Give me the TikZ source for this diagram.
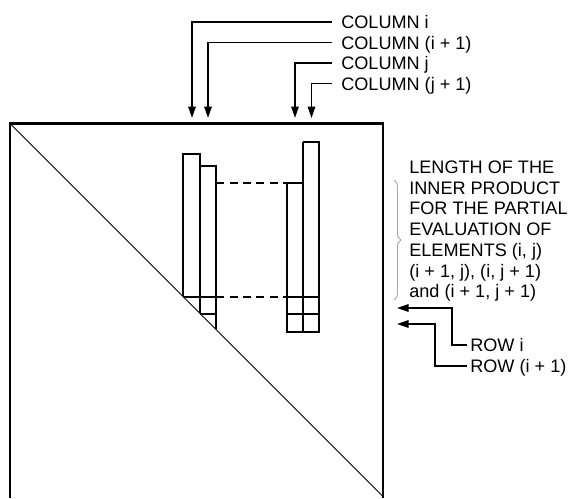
\documentclass[tikz,border=0pt]{standalone}
\usepackage{fontspec}
\setmainfont{Liberation Sans}
\usetikzlibrary{arrows.meta, calc, decorations.pathreplacing}

\begin{document}
\begin{tikzpicture}[
    x=0.02cm, y=-0.02cm,
    frame/.style={line width=1.5pt, line join=miter},
    cell/.style={line width=0.75pt},
    gapline/.style={line width=0.8pt, dash pattern=on 1.6mm off 1.1mm},
    lbl/.style={font=\fontsize{10.3}{11.8}\selectfont, text height=7.4pt, text depth=0pt, inner ysep=0pt},
    collbl/.style={lbl, anchor=west, inner xsep=5.1pt},
    rowlbl/.style={lbl, anchor=west, inner xsep=1.7pt},
    arrow/.style={-{Triangle[length=2.3mm, width=1.5mm]}, line width=0.8pt}
]
\useasboundingbox (0,0) rectangle (573,498);

% Matrix outline and diagonal
\draw[frame] (10,498) -- (10,123.5) -- (383,123.5) -- (383,498);
\draw[line width=0.5pt] (10,123.5) -- (383,496.5);

% Columns i and i+1
\draw[cell] (183,296) -- (183,154) -- (200,154) -- (200,313);
\draw[cell] (200,166) -- (216,166) -- (216,329);
\draw[cell] (183,297) -- (216,297);
\draw[cell] (200,314) -- (216,314);

% Columns j and j+1
\draw[cell] (287,183) -- (303,183);
\draw[cell] (303,142) -- (319,142) -- (319,332) -- (287,332) -- (287,183);
\draw[cell] (303,142) -- (303,332);
\draw[cell] (287,297) -- (319,297);
\draw[cell] (287,314) -- (319,314);

% Length of the inner product
\draw[gapline] (216,183) -- (287,183);
\draw[gapline] (216,297) -- (287,297);

% Column labels
\node[collbl] (colI)  at (332,22)   {COLUMN i};
\node[collbl] (colIp) at (332,42.5) {COLUMN (i + 1)};
\node[collbl] (colJ)  at (332,63)   {COLUMN j};
\node[collbl] (colJp) at (332,83.5) {COLUMN (j + 1)};

\coordinate (tipI)  at (192,118);
\coordinate (tipIp) at (208,118);
\coordinate (tipJ)  at (295,118);
\coordinate (tipJp) at (311.5,118);

\draw[arrow] (colI.west)  -| (tipI);
\draw[arrow] (colIp.west) -| (tipIp);
\draw[arrow] (colJ.west)  -| (tipJ);
\draw[arrow] (colJp.west) -| (tipJp);

% Note with brace
\node[font=\fontsize{10.3}{11.8}\selectfont, align=left, anchor=north west, inner sep=0pt] (note) at (409,160.5)
    {LENGTH OF THE\\INNER PRODUCT\\FOR THE PARTIAL\\EVALUATION OF\\ELEMENTS (i, j)\\(i + 1, j), (i, j + 1)\\and (i + 1, j + 1)};
\coordinate (braceTop) at (394,180);
\coordinate (braceBot) at (394,300);
\draw[gray!70, line width=0.5pt, decorate, decoration={brace, amplitude=4pt}] (braceTop) -- (braceBot);

% Row labels
\node[rowlbl] (rowI)  at (467,345) {ROW i};
\node[rowlbl] (rowIp) at (467,366) {ROW (i + 1)};

\coordinate (tipR)  at (397,308);
\coordinate (tipRp) at (397,324);

\draw[arrow] (rowI.west)  -- ++(-15,0) |- (tipR);
\draw[arrow] (rowIp.west) -- ++(-32,0) |- (tipRp);

\end{tikzpicture}
\end{document}
